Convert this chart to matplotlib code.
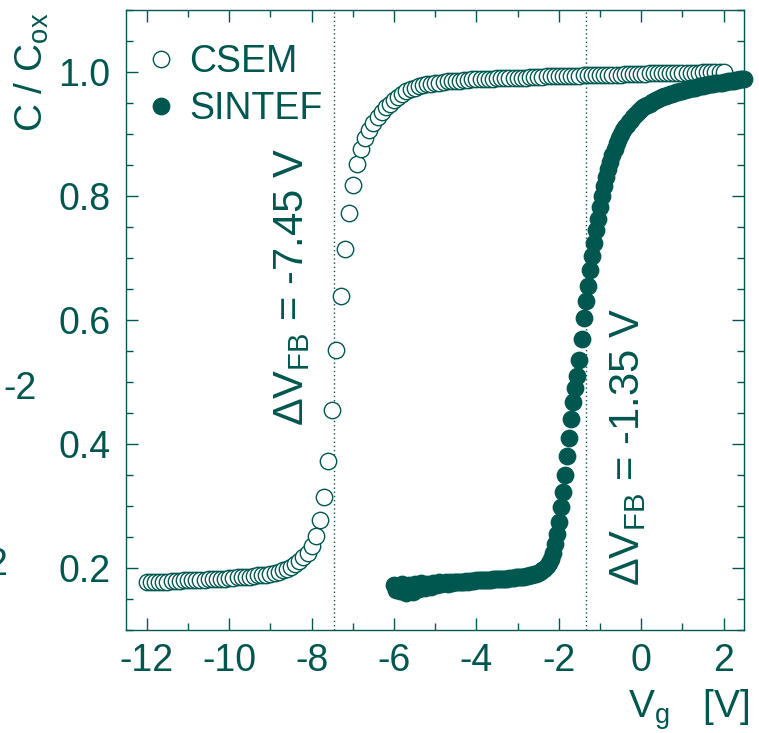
import numpy as np
import matplotlib
matplotlib.use("Agg")
import matplotlib.pyplot as plt
from matplotlib.ticker import MultipleLocator

# colours / fonts
teal = "#00574f"
plt.rcParams["font.family"] = ["Liberation Sans", "DejaVu Sans"]
plt.rcParams["mathtext.fontset"] = "custom"
plt.rcParams["mathtext.rm"] = "Liberation Sans"
plt.rcParams["mathtext.it"] = "Liberation Sans:italic"
plt.rcParams["axes.unicode_minus"] = False

# CSEM sweep: -12 V .. 2 V, 0.1 V steps
csem_vg = np.round(np.linspace(-12.0, 2.0, 141), 2)
csem_c = [
    0.177, 0.177, 0.177, 0.178, 0.178, 0.178, 0.179, 0.179, 0.179, 0.180,
    0.180, 0.180, 0.181, 0.181, 0.181, 0.182, 0.182, 0.182, 0.183, 0.183,
    0.184, 0.184, 0.185, 0.185, 0.186, 0.186, 0.187, 0.188, 0.188, 0.189,
    0.191, 0.192, 0.194, 0.196, 0.199, 0.202, 0.206, 0.211, 0.217, 0.225,
    0.236, 0.252, 0.277, 0.315, 0.372, 0.455, 0.551, 0.639, 0.714, 0.772,
    0.817, 0.851, 0.876, 0.893, 0.907, 0.918, 0.928, 0.936, 0.943, 0.949,
    0.955, 0.960, 0.965, 0.969, 0.972, 0.975, 0.977, 0.979, 0.980, 0.981,
    0.982, 0.983, 0.984, 0.985, 0.985, 0.986, 0.986, 0.987, 0.987, 0.988,
    0.988, 0.988, 0.989, 0.989, 0.989, 0.990, 0.990, 0.990, 0.990, 0.991,
    0.991, 0.991, 0.991, 0.992, 0.992, 0.992, 0.992, 0.993, 0.993, 0.993,
    0.993, 0.993, 0.994, 0.994, 0.994, 0.994, 0.995, 0.995, 0.995, 0.995,
    0.995, 0.996, 0.996, 0.996, 0.996, 0.996, 0.997, 0.997, 0.997, 0.997,
    0.997, 0.997, 0.998, 0.998, 0.998, 0.998, 0.998, 0.998, 0.999, 0.999,
    0.999, 0.999, 0.999, 0.999, 0.999, 1.000, 1.000, 1.000, 1.000, 1.000,
    1.000,
]

# SINTEF sweep: -6 V .. 2.5 V, 0.05 V steps
sintef_vg = np.round(np.linspace(-6.0, 2.5, 171), 2)
sintef_c = [
    0.172, 0.165, 0.170, 0.163, 0.175, 0.168, 0.160, 0.172, 0.167, 0.162,
    0.174, 0.170, 0.166, 0.176, 0.171, 0.168, 0.175, 0.172, 0.169, 0.176,
    0.174, 0.172, 0.177, 0.174, 0.176, 0.177, 0.175, 0.177, 0.176, 0.178,
    0.177, 0.178, 0.177, 0.178, 0.178, 0.179, 0.178, 0.179, 0.179, 0.179,
    0.180, 0.180, 0.180, 0.180, 0.181, 0.181, 0.181, 0.181, 0.182, 0.182,
    0.182, 0.182, 0.183, 0.183, 0.183, 0.183, 0.184, 0.184, 0.184, 0.185,
    0.185, 0.185, 0.186, 0.186, 0.187, 0.187, 0.188, 0.189, 0.190, 0.191,
    0.192, 0.194, 0.196, 0.199, 0.203, 0.208, 0.215, 0.225, 0.238, 0.255,
    0.275, 0.298, 0.323, 0.350, 0.380, 0.410, 0.440, 0.468, 0.490, 0.510,
    0.535, 0.570, 0.603, 0.630, 0.655, 0.680, 0.703, 0.725, 0.745, 0.763,
    0.783, 0.800, 0.816, 0.830, 0.843, 0.855, 0.866, 0.876, 0.885, 0.893,
    0.900, 0.906, 0.911, 0.915, 0.919, 0.923, 0.927, 0.931, 0.934, 0.937,
    0.940, 0.943, 0.945, 0.947, 0.949, 0.951, 0.953, 0.955, 0.957, 0.958,
    0.960, 0.961, 0.962, 0.963, 0.964, 0.965, 0.966, 0.967, 0.968, 0.969,
    0.970, 0.971, 0.972, 0.973, 0.974, 0.975, 0.975, 0.976, 0.977, 0.977,
    0.978, 0.979, 0.979, 0.980, 0.980, 0.981, 0.982, 0.982, 0.983, 0.983,
    0.984, 0.984, 0.985, 0.985, 0.986, 0.986, 0.987, 0.987, 0.988, 0.988,
    0.989,
]

# flat-band voltages
vfb_csem = -7.45
vfb_sintef = -1.35

fs = 27

fig = plt.figure(figsize=(7.59, 7.33), dpi=100)
ax = fig.add_axes([0.1664, 0.1405, 0.8142, 0.8458])

ax.axvline(vfb_csem, color=teal, lw=1.0, ls=(0, (1, 2)), zorder=1)
ax.axvline(vfb_sintef, color=teal, lw=1.0, ls=(0, (1, 2)), zorder=1)

ax.plot(csem_vg, csem_c, ls="none", marker="o", ms=11.8, mfc="white",
        mec=teal, mew=1.0, label="CSEM", zorder=2, clip_on=False)
ax.plot(sintef_vg, sintef_c, ls="none", marker="o", ms=11.8, mfc=teal,
        mec=teal, mew=1.0, label="SINTEF", zorder=3, clip_on=False)

ax.set_xlim(-12.5, 2.5)
ax.set_ylim(0.1, 1.1)
ax.xaxis.set_major_locator(MultipleLocator(2))
ax.xaxis.set_minor_locator(MultipleLocator(1))
ax.yaxis.set_major_locator(MultipleLocator(0.2))
ax.yaxis.set_minor_locator(MultipleLocator(0.05))
ax.yaxis.set_major_formatter(matplotlib.ticker.FormatStrFormatter("%.1f"))

for s in ax.spines.values():
    s.set_color(teal)
    s.set_linewidth(1.0)
ax.tick_params(which="both", direction="in", top=True, right=True,
               color=teal, labelcolor=teal, width=1.0, labelsize=fs)
ax.tick_params(which="major", length=8.6)
ax.tick_params(which="minor", length=5.0)
ax.tick_params(axis="x", which="major", pad=9)
ax.tick_params(axis="y", which="major", pad=11.5)

leg = ax.legend(loc="upper left", bbox_to_anchor=(0.0258, 0.9455), frameon=False,
                fontsize=fs, borderaxespad=0, borderpad=0, handlelength=1.0,
                handletextpad=0.25, labelspacing=0.31, numpoints=1,
                labelcolor=teal)

ax.text(-8.47, 0.653, "ΔV$_\\mathrm{FB}$ = -7.45 V", rotation=90, color=teal,
        fontsize=30, ha="center", va="center")
ax.text(-0.33, 0.395, "ΔV$_\\mathrm{FB}$ = -1.35 V", rotation=90, color=teal,
        fontsize=30, ha="center", va="center")

# axis titles
fig.text(32 / 759, 1 - 132 / 733, "C / C$_\\mathrm{ox}$", rotation=90,
         color=teal, fontsize=28, ha="center", va="bottom")
fig.text(750 / 759, 1 - 718 / 733, "V$_\\mathrm{g}$   [V]", color=teal,
         fontsize=28, ha="right", va="baseline")

# clipped labels of the neighbouring panel
fig.text(3 / 759, 1 - 389 / 733, "-2", color=teal, fontsize=fs,
         ha="left", va="center")
fig.text(7 / 759, 1 - 565 / 733, "2", color=teal, fontsize=fs,
         ha="right", va="center")

fig.savefig("out.png", dpi=100)
